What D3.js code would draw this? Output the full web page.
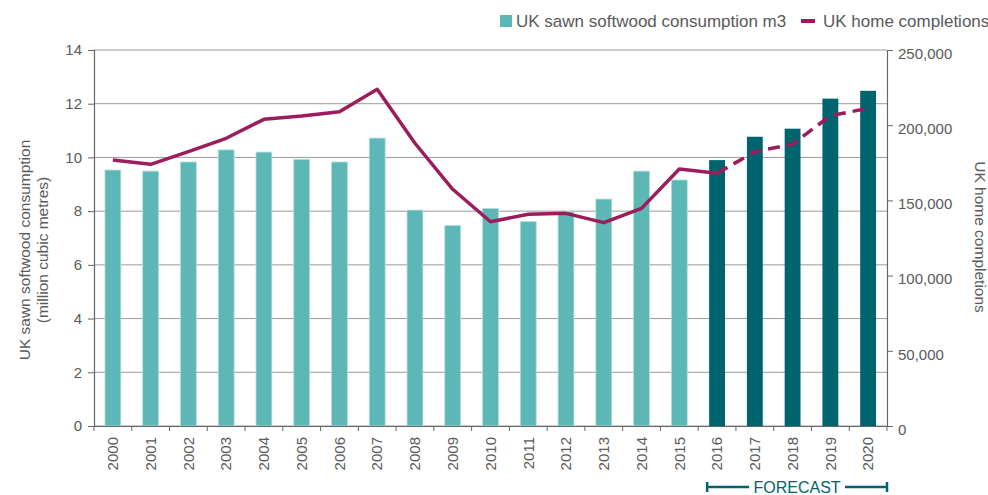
<!DOCTYPE html>
<html>
<head>
<meta charset="utf-8">
<script src="https://cdn.jsdelivr.net/npm/d3@7"></script>
<style>
  body { margin: 0; background: #fff; }
  text { font-family: "Liberation Sans", Arial, sans-serif; }
</style>
</head>
<body>
<div id="chart"></div>
<script>
const width = 988;
const height = 495;

// data
const years = ['2000', '2001', '2002', '2003', '2004', '2005', '2006', '2007', '2008', '2009', '2010',
  '2011', '2012', '2013', '2014', '2015', '2016', '2017', '2018', '2019', '2020'];
const softwood = [9.53, 9.49, 9.83, 10.28, 10.2, 9.93, 9.83, 10.72, 8.04, 7.47, 8.1,
  7.61, 7.98, 8.45, 9.49, 9.16, 9.9, 10.77, 11.07, 12.19, 12.48];
const completions = [176900, 174000, 182400, 191300, 203900, 206100, 209000, 223900, 188000, 157400, 135800,
  140800, 141400, 135200, 144700, 170900, 168000, 182400, 187300, 206300, 211200];
const forecastYears = ['2016', '2017', '2018', '2019', '2020'];
const leftTicks = [0, 2, 4, 6, 8, 10, 12, 14];
const rightTicks = [0, 50000, 100000, 150000, 200000, 250000];

const margin = {top: 50, right: 101, bottom: 69, left: 94};
const iw = width - margin.left - margin.right;
const ih = height - margin.top - margin.bottom;

const lightTeal = '#5eb7b7';
const darkTeal = '#00646e';
const lineColor = '#9b1d5c';
const textColor = '#5a5a5a';

const svg = d3.select('#chart').append('svg')
  .attr('width', width)
  .attr('height', height);

const g = svg.append('g').attr('transform', `translate(${margin.left},${margin.top})`);

// scales
const x = d3.scaleBand().domain(years).range([0, iw]).paddingInner(0.58).paddingOuter(0.29);
const yl = d3.scaleLinear().domain([0, 14]).range([ih, 0]);
const yr = d3.scaleLinear().domain([0, 250000]).range([ih, 0]);

// gridlines
g.append('g').selectAll('line').data(leftTicks).join('line')
  .attr('x1', 0).attr('x2', iw)
  .attr('y1', (d) => yl(d)).attr('y2', (d) => yl(d))
  .attr('stroke', '#9a9a9a').attr('stroke-width', 1);

// bars
g.append('g').selectAll('rect').data(years).join('rect')
  .attr('x', (d) => x(d))
  .attr('width', x.bandwidth())
  .attr('y', (d, i) => yl(softwood[i]))
  .attr('height', (d, i) => yl(0) - yl(softwood[i]))
  .attr('fill', (d) => forecastYears.includes(d) ? darkTeal : lightTeal)
  .attr('stroke', (d) => forecastYears.includes(d) ? 'none' : '#b5dedb')
  .attr('stroke-width', 0.8);

// line
const pts = years.map((d, i) => ({year: d, v: completions[i]}));
const line = d3.line()
  .x((d) => x(d.year) + x.bandwidth() / 2)
  .y((d) => yr(d.v));
const split = years.indexOf(forecastYears[0]);

g.append('path')
  .datum(pts.slice(0, split + 1))
  .attr('d', line)
  .attr('fill', 'none')
  .attr('stroke', lineColor)
  .attr('stroke-width', 3.5)
  .attr('stroke-linejoin', 'round');

g.append('path')
  .datum(pts.slice(split))
  .attr('d', line)
  .attr('fill', 'none')
  .attr('stroke', lineColor)
  .attr('stroke-width', 3.5)
  .attr('stroke-dasharray', '12,7');

// left axis
const g_left = g.append('g')
  .call(d3.axisLeft(yl).tickValues(leftTicks).tickSize(6).tickPadding(6).tickFormat(d3.format('d')));
// right axis
const g_right = g.append('g')
  .attr('transform', `translate(${iw},0)`)
  .call(d3.axisRight(yr).tickValues(rightTicks).tickSize(6).tickPadding(5).tickFormat(d3.format(',')));
g_right.selectAll('text').attr('dy', '0.55em');
// bottom axis (labels at band centres)
const g_bottom = g.append('g')
  .attr('transform', `translate(0,${ih})`)
  .call(d3.axisBottom(x).tickSize(0).tickPadding(0));

g_bottom.selectAll('text')
  .attr('transform', 'rotate(-90)')
  .attr('text-anchor', 'end')
  .attr('dy', '0.35em')
  .attr('x', -11)
  .attr('y', 0);

// bottom ticks between bands
g_bottom.selectAll('.between').data(d3.range(years.length + 1)).join('line')
  .attr('class', 'between')
  .attr('x1', (i) => i * x.step()).attr('x2', (i) => i * x.step())
  .attr('y1', 0).attr('y2', 5)
  .attr('stroke', '#666');

[g_left, g_right, g_bottom].forEach((ax) => {
  ax.select('.domain').attr('stroke', '#666').attr('stroke-width', 1.2);
  ax.selectAll('.tick line').attr('stroke', '#666');
  ax.selectAll('text').attr('fill', textColor).style('font-size', '15px');
});

// axis titles
svg.append('text')
  .attr('transform', `translate(30,250) rotate(-90)`)
  .attr('text-anchor', 'middle')
  .attr('fill', textColor)
  .style('font-size', '15.5px')
  .text('UK sawn softwood consumption');
svg.append('text')
  .attr('transform', `translate(48,250) rotate(-90)`)
  .attr('text-anchor', 'middle')
  .attr('fill', textColor)
  .style('font-size', '15.5px')
  .text('(million cubic metres)');
svg.append('text')
  .attr('transform', `translate(975,237) rotate(90)`)
  .attr('text-anchor', 'middle')
  .attr('fill', textColor)
  .style('font-size', '15.5px')
  .text('UK home completions');

// legend
const legend = svg.append('g');
legend.append('rect')
  .attr('x', 500).attr('y', 15).attr('width', 12).attr('height', 12)
  .attr('fill', lightTeal);
legend.append('text')
  .attr('x', 516).attr('y', 27)
  .attr('fill', textColor)
  .style('font-size', '17px')
  .text('UK sawn softwood consumption m3');
legend.append('line')
  .attr('x1', 801).attr('x2', 815).attr('y1', 21).attr('y2', 21)
  .attr('stroke', lineColor).attr('stroke-width', 4);
legend.append('text')
  .attr('x', 823).attr('y', 27)
  .attr('fill', textColor)
  .style('font-size', '17px')
  .text('UK home completions');

// forecast bracket
const fx0 = margin.left + x(forecastYears[0]) - 2;
const fx1 = margin.left + iw;
const fy = 487;
const fb = svg.append('g').attr('stroke', darkTeal).attr('stroke-width', 2.5);
fb.append('line').attr('x1', fx0).attr('x2', fx0).attr('y1', fy - 5).attr('y2', fy + 5);
fb.append('line').attr('x1', fx1).attr('x2', fx1).attr('y1', fy - 5).attr('y2', fy + 5);
fb.append('line').attr('x1', fx0).attr('x2', fx0 + 42).attr('y1', fy).attr('y2', fy);
fb.append('line').attr('x1', fx1 - 42).attr('x2', fx1).attr('y1', fy).attr('y2', fy);
svg.append('text')
  .attr('x', (fx0 + fx1) / 2).attr('y', 493)
  .attr('text-anchor', 'middle')
  .attr('fill', darkTeal)
  .style('font-size', '16px')
  .text('FORECAST');
</script>
</body>
</html>
